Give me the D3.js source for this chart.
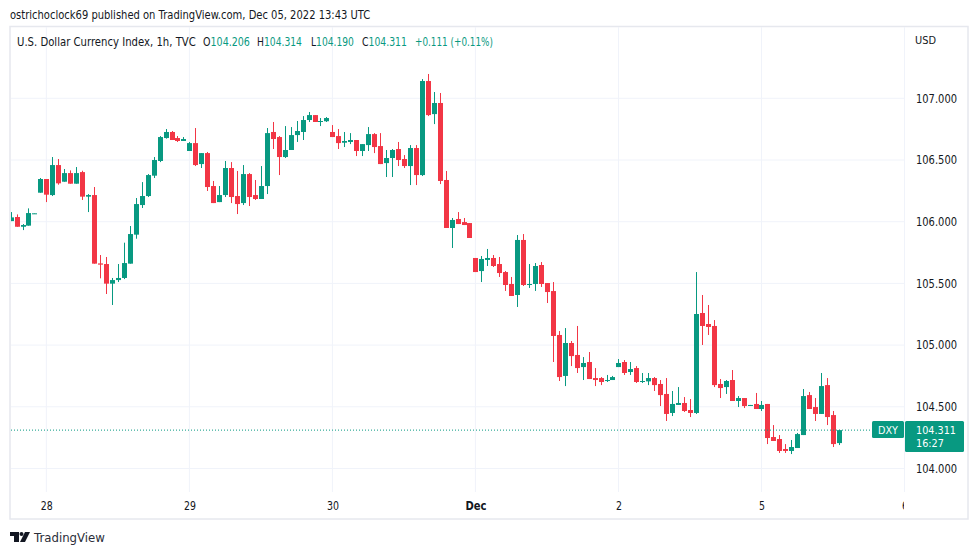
<!DOCTYPE html>
<html>
<head>
<meta charset="utf-8">
<script src="https://cdn.jsdelivr.net/npm/d3@7"></script>
<style>
  body { margin: 0; background: #fff; }
  text { font-family: "DejaVu Sans", sans-serif; }
</style>
</head>
<body>
<div id="canva"></div>
<script>
// Hourly candles
const opens = [
  106.005,106.038,105.959,105.968,106.065,106.235,106.346,106.216,106.459,106.324,
  106.394,106.308,106.402,106.203,106.216,105.662,105.657,105.498,105.527,105.544,
  105.660,105.895,106.135,106.208,106.373,106.492,106.678,106.727,106.678,106.654,
  106.573,106.637,106.467,106.556,106.289,106.159,106.216,106.435,106.208,106.151,
  106.386,106.216,106.184,106.289,106.727,106.686,106.524,106.581,106.702,106.727,
  106.824,106.864,106.814,106.814,106.727,106.694,106.640,106.646,106.662,106.573,
  106.621,106.710,106.613,106.475,106.516,106.589,106.508,106.451,106.597,106.378,
  107.140,106.872,106.962,106.338,105.949,106.022,105.997,105.989,105.706,105.600,
  105.690,105.706,105.657,105.592,105.495,105.406,105.852,105.487,105.495,105.649,
  105.503,105.438,105.082,104.750,105.017,104.920,104.822,104.863,104.733,104.733,
  104.709,104.717,104.822,104.863,104.782,104.814,104.701,104.706,104.733,104.685,
  104.604,104.450,104.515,104.531,104.474,104.450,105.260,105.171,105.155,104.685,
  104.660,104.717,104.547,104.571,104.510,104.523,104.482,104.523,104.255,104.239,
  104.158,104.142,104.166,104.271,104.595,104.498,104.442,104.676,104.433,104.206
];
const highs = [
  106.078,106.059,105.981,106.108,106.068,106.354,106.346,106.524,106.508,106.427,
  106.416,106.443,106.413,106.224,106.281,105.730,105.714,105.544,105.657,105.830,
  105.965,106.192,106.321,106.386,106.524,106.694,106.751,106.735,106.694,106.686,
  106.646,106.759,106.556,106.565,106.330,106.289,106.492,106.483,106.411,106.459,
  106.394,106.338,106.451,106.759,106.808,106.694,106.775,106.767,106.816,106.856,
  106.889,106.864,106.840,106.848,106.783,106.751,106.727,106.718,106.662,106.629,
  106.767,106.718,106.718,106.581,106.589,106.646,106.540,106.621,106.621,107.156,
  107.197,107.051,107.043,106.411,106.030,106.078,106.030,105.989,105.706,105.722,
  105.779,105.730,105.714,105.600,105.552,105.892,105.900,105.657,105.665,105.673,
  105.503,105.511,105.114,105.138,105.033,105.155,104.903,104.944,104.814,104.741,
  104.758,104.750,104.887,104.879,104.863,104.830,104.774,104.774,104.741,104.717,
  104.733,104.628,104.660,104.579,104.563,105.592,105.406,105.325,105.203,104.725,
  104.717,104.798,104.587,104.571,104.515,104.612,104.547,104.523,104.352,104.271,
  104.198,104.231,104.288,104.644,104.620,104.571,104.774,104.733,104.466,104.314
];
const lows = [
  106.005,105.959,105.932,105.968,106.065,106.235,106.159,106.208,106.300,106.324,
  106.308,106.308,106.176,106.078,105.660,105.541,105.414,105.325,105.511,105.535,
  105.660,105.862,106.111,106.200,106.354,106.483,106.673,106.662,106.646,106.654,
  106.573,106.451,106.435,106.249,106.151,106.159,106.200,106.151,106.062,106.135,
  106.127,106.176,106.184,106.224,106.589,106.378,106.516,106.581,106.646,106.662,
  106.808,106.808,106.775,106.808,106.686,106.589,106.605,106.629,106.532,106.532,
  106.573,106.556,106.467,106.362,106.362,106.451,106.435,106.297,106.297,106.370,
  106.856,106.791,106.305,105.949,105.787,105.981,105.973,105.868,105.592,105.511,
  105.641,105.633,105.552,105.439,105.398,105.309,105.479,105.463,105.439,105.471,
  105.341,104.863,104.709,104.668,104.830,104.774,104.717,104.725,104.668,104.676,
  104.701,104.717,104.822,104.758,104.758,104.693,104.693,104.676,104.628,104.506,
  104.385,104.425,104.515,104.458,104.417,104.442,105.001,105.082,104.660,104.571,
  104.604,104.547,104.498,104.490,104.510,104.482,104.466,104.198,104.223,104.126,
  104.126,104.117,104.166,104.271,104.482,104.385,104.442,104.352,104.174,104.190
];
const closes = [
  106.035,105.959,105.973,106.070,106.068,106.346,106.219,106.459,106.311,106.394,
  106.308,106.394,106.203,106.216,105.660,105.652,105.498,105.527,105.544,105.665,
  105.900,106.143,106.208,106.378,106.500,106.686,106.727,106.662,106.654,106.670,
  106.637,106.459,106.556,106.281,106.151,106.216,106.435,106.200,106.143,106.386,
  106.200,106.184,106.289,106.718,106.670,106.524,106.581,106.702,106.735,106.824,
  106.864,106.808,106.816,106.840,106.686,106.637,106.654,106.662,106.573,106.629,
  106.710,106.605,106.467,106.516,106.581,106.500,106.451,106.597,106.378,107.140,
  106.864,106.962,106.330,105.949,106.014,105.981,105.973,105.868,105.592,105.698,
  105.706,105.641,105.584,105.487,105.398,105.852,105.487,105.495,105.641,105.495,
  105.430,105.074,104.741,105.017,104.911,104.814,104.855,104.725,104.717,104.701,
  104.717,104.741,104.855,104.774,104.806,104.701,104.709,104.733,104.676,104.595,
  104.442,104.523,104.531,104.466,104.450,105.252,105.155,105.147,104.676,104.652,
  104.709,104.547,104.571,104.506,104.515,104.482,104.515,104.247,104.223,104.142,
  104.142,104.174,104.279,104.587,104.482,104.442,104.668,104.417,104.198,104.311
];

const priceTicks = [104, 104.5, 105, 105.5, 106, 106.5, 107];
const dayTicks = [6, 30, 54, 78, 102, 126, 150];
const dayLabels = ["28", "29", "30", "Dec", "2", "5", "6"];

const legendValues = [
  {label: "O", value: "104.206", xl: 203, w: 47},
  {label: "H", value: "104.314", xl: 257, w: 45},
  {label: "L", value: "104.190", xl: 311, w: 43},
  {label: "C", value: "104.311", xl: 362, w: 45}
];

const verd = "#089981";
const vermell = "#f23645";
const gris = "#f0f3fa";
const textColor = "#131722";
const fontSize = 12;
const fontSmall = 11;
const fontFamily = '"DejaVu Sans", sans-serif';

const ample = 979, alt = 555;
const plot = {left: 11, right: 904, top: 27, bottom: 492};

const svg = d3.select("#canva").append("svg")
  .attr("width", ample).attr("height", alt)
  .style("display", "block");

// Squeeze a text sideways to the width it has in the picture
function fit(t, px, py, width) {
  const natural = t.node().getComputedTextLength();
  t.attr("transform", `translate(${px},${py}) scale(${width / natural},1)`);
  return t;
}

function label(px, py, str, width, color, size) {
  const t = svg.append("text")
    .attr("font-size", size || fontSize).attr("fill", color || textColor)
    .text(str);
  return fit(t, px, py, width);
}

// Scales
const x = d3.scaleLinear().domain([0, 150]).range([10.6, 904.5]);
const y = d3.scaleLinear().domain([104, 107]).range([468.5, 98.3]);

svg.append("defs").append("clipPath").attr("id", "plotClip")
  .append("rect")
  .attr("x", plot.left).attr("y", plot.top)
  .attr("width", plot.right - plot.left).attr("height", plot.bottom - plot.top);

svg.append("defs").append("clipPath").attr("id", "axisClip")
  .append("rect")
  .attr("x", plot.left).attr("y", plot.bottom)
  .attr("width", plot.right - plot.left).attr("height", 27);

// Header line
label(10, 19, "ostrichoclock69 published on TradingView.com, Dec 05, 2022 13:43 UTC", 361);

// Frame
svg.append("rect")
  .attr("x", 10).attr("y", 26.5)
  .attr("width", 958).attr("height", 492.5)
  .attr("fill", "none").attr("stroke", "#e6e8ee").attr("stroke-width", 1.5);

// Grid
svg.append("g").selectAll("line").data(priceTicks).join("line")
  .attr("x1", plot.left).attr("x2", plot.right)
  .attr("y1", d => y(d)).attr("y2", d => y(d))
  .attr("stroke", gris);

svg.append("g").selectAll("line").data(dayTicks).join("line")
  .attr("x1", d => x(d)).attr("x2", d => x(d))
  .attr("y1", plot.top).attr("y2", plot.bottom)
  .attr("stroke", gris);

// Candles, snapped to whole pixels so the wicks stay sharp
const candles = svg.append("g").attr("clip-path", "url(#plotClip)");
const index = d3.range(opens.length);
const colorOf = i => closes[i] >= opens[i] ? verd : vermell;

candles.selectAll(".metxa").data(index).join("line")
  .attr("class", "metxa")
  .attr("x1", i => Math.round(x(i)) + 0.5).attr("x2", i => Math.round(x(i)) + 0.5)
  .attr("y1", i => y(highs[i])).attr("y2", i => y(lows[i]))
  .attr("stroke", colorOf).attr("stroke-width", 1);

const cos = 5;
candles.selectAll(".cos").data(index).join("rect")
  .attr("class", "cos")
  .attr("x", i => Math.round(x(i)) - 2)
  .attr("width", cos)
  .attr("y", i => y(Math.max(opens[i], closes[i])))
  .attr("height", i => Math.max(1, Math.abs(y(opens[i]) - y(closes[i]))))
  .attr("fill", colorOf);

// Last price line
const yLast = y(closes[closes.length - 1]);
svg.append("line")
  .attr("x1", plot.left).attr("x2", plot.right)
  .attr("y1", yLast).attr("y2", yLast)
  .attr("stroke", verd).attr("stroke-width", 1).attr("stroke-dasharray", "1 2");

// Price axis
const axisY = svg.append("g")
  .attr("transform", "translate(905,0)")
  .call(d3.axisRight(y).tickValues(priceTicks).tickFormat(d3.format(".3f")).tickSize(0).tickPadding(11));
axisY.select(".domain").remove();
axisY.selectAll("text").attr("font-size", fontSize).attr("fill", textColor)
  .style("font-family", fontFamily)
  .attr("textLength", 41).attr("lengthAdjust", "spacingAndGlyphs");

label(915, 44, "USD", 21, textColor, fontSmall);

// Time axis
const axisX = svg.append("g")
  .attr("clip-path", "url(#axisClip)")
  .append("g")
  .attr("transform", `translate(0,${plot.bottom})`)
  .call(d3.axisBottom(x).tickValues(dayTicks)
    .tickFormat((d, i) => dayLabels[i]).tickSize(0).tickPadding(9));
axisX.select(".domain").remove();
axisX.selectAll("text").attr("font-size", fontSize).attr("fill", textColor)
  .style("font-family", fontFamily)
  .attr("font-weight", (d, i) => dayLabels[i] === "Dec" ? "bold" : "normal")
  .attr("textLength", (d, i) => dayLabels[i] === "Dec" ? 21 : dayLabels[i].length * 6)
  .attr("lengthAdjust", "spacingAndGlyphs");

// Legend
label(17, 46, "U.S. Dollar Currency Index, 1h, TVC", 179);

legendValues.forEach(d => {
  const t = svg.append("text").attr("font-size", fontSize).attr("fill", textColor).text(d.label);
  t.append("tspan").attr("fill", verd).text(d.value);
  fit(t, d.xl, 46, d.w);
});

label(415, 46, "+0.111 (+0.11%)", 78, verd);

// Last price tags
svg.append("rect")
  .attr("x", 872).attr("y", yLast - 9)
  .attr("width", 32).attr("height", 17).attr("rx", 1.5)
  .attr("fill", verd);
label(878, yLast + 4, "DXY", 20, "#fff", fontSmall);

svg.append("rect")
  .attr("x", 905).attr("y", yLast - 9)
  .attr("width", 59).attr("height", 31).attr("rx", 1.5)
  .attr("fill", verd);
label(916, yLast + 4, "104.311", 40, "#fff", fontSmall);
label(916, yLast + 17, "16:27", 28, "#fff", fontSmall);

// Logo
const logo = svg.append("g").attr("transform", "translate(10,532)").attr("fill", "#131722");
logo.append("path").attr("d", "M0 0H9V10H4V4H0Z");
logo.append("circle").attr("cx", 11.5).attr("cy", 2).attr("r", 2);
logo.append("path").attr("d", "M15 0H20L15 10H10Z");

label(34, 542, "TradingView", 71, "#2a2e39", 13);
</script>
</body>
</html>
